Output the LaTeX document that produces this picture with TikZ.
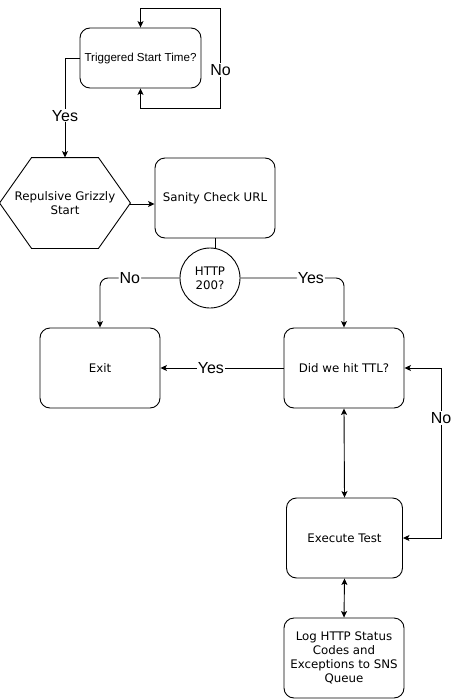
\documentclass[tikz,border=0pt]{standalone}
\usepackage{fontspec}
\newfontfamily\dv{DejaVu Sans}
\newfontfamily\lib{Liberation Sans}
\usetikzlibrary{arrows.meta,calc}
\begin{document}
\begin{tikzpicture}[x=1pt,y=-1pt,
  every path/.style={line width=0.9pt},
  tip/.style={-{Stealth[length=6.5pt,width=6pt,inset=1.5pt]}},
  dtip/.style={{Stealth[length=6.5pt,width=6pt,inset=1.5pt]}-{Stealth[length=6.5pt,width=6pt,inset=1.5pt]}},
  box/.style={draw,rounded corners=10pt,minimum width=120pt,minimum height=80pt,align=center,inner sep=2pt,font=\dv\fontsize{11.8}{14}\selectfont},
  txt/.style={align=center,inner sep=0pt,font=\dv\fontsize{11.8}{14}\selectfont},
  lbl/.style={fill=white,inner sep=1pt,font=\lib\fontsize{16}{18}\selectfont}
]
\useasboundingbox (0,0) rectangle (454,699);
% nodes
\node[box,minimum width=121pt,minimum height=60pt,font=\lib\fontsize{11.6}{13}\selectfont] (trig) at (140.5,58) {Triggered Start Time?};
\node[txt,minimum width=130pt,minimum height=90pt] (hex) at (65,203) {Repulsive Grizzly\\Start};
\draw (hex.west) -- ($(hex.north west)+(32,0)$) -- ($(hex.north east)+(-32,0)$) -- (hex.east) -- ($(hex.south east)+(-32,0)$) -- ($(hex.south west)+(32,0)$) -- cycle;
\node[box] (san) at (215,198) {Sanity Check URL};
\node[draw,circle,minimum size=60pt,inner sep=0pt,txt] (circ) at (210,278) {HTTP\\200?};
\node[box] (exit) at (100,368) {Exit};
\node[box] (ttl) at (344,368) {Did we hit TTL?};
\node[box,minimum width=116pt] (exec) at (344.5,538) {Execute Test};
\node[box] (log) at (344,658) {Log HTTP Status\\Codes and\\Exceptions to SNS\\Queue};
\coordinate (t1) at (220.5,8);
\coordinate (t2) at (220.5,108);
\coordinate (n1) at (441,368);
\coordinate (h1) at ($(hex.east)+(0,1)$);
% connectors
\draw[dtip] (trig.north) |- (t1) -- node[lbl,pos=0.62] {No} (t2) -| (trig.south);
\draw[tip] (trig.west) -| node[lbl,pos=0.79] {Yes} (hex.north);
\draw[tip] (h1) -- (h1 -| san.west);
\draw (san.south) -- (san.south |- circ.north);
\draw[tip,rounded corners=8pt] (circ.west) -- node[lbl,pos=0.625] {No} (exit.north |- circ.west) -- (exit.north);
\draw[tip,rounded corners=8pt] (circ.east) -- node[lbl,pos=0.68] {Yes} (ttl.north |- circ.east) -- (ttl.north);
\draw[tip] (ttl.west) -- node[lbl,pos=0.59] {Yes} (exit.east);
\draw[dtip] (ttl.south) -- (exec.north);
\draw[dtip] (ttl.east) -- (n1) |- node[lbl,pos=0.147] {No} (exec.east);
\draw[dtip] (exec.south) -- (log.north);
\end{tikzpicture}
\end{document}
